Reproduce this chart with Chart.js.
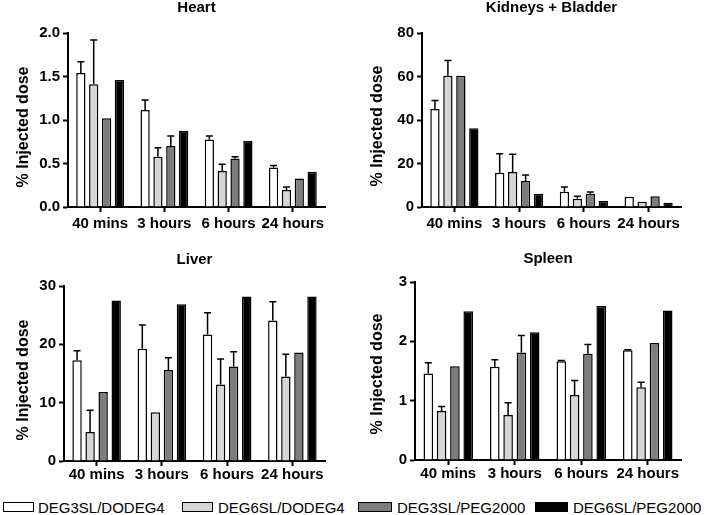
<!DOCTYPE html>
<html><head><meta charset="utf-8">
<script src="https://cdn.jsdelivr.net/npm/chart.js@4.4.1/dist/chart.umd.min.js"></script>
<style>
html,body{margin:0;padding:0;background:#fff;}
#wrap{position:relative;width:706px;height:515px;overflow:hidden;background:#fff;}
canvas{position:absolute;}
.lg-box{position:absolute;box-sizing:border-box;height:10px;top:501.5px;border:1.5px solid #000;}
.lg-txt{position:absolute;font-family:'Liberation Sans',Arial,sans-serif;font-size:15px;line-height:17px;top:499px;color:#000;white-space:nowrap;}
</style></head>
<body><div id="wrap">
<canvas id="c0" width="353" height="240" style="left:0;top:0"></canvas>
<canvas id="c1" width="353" height="240" style="left:353px;top:0"></canvas>
<canvas id="c2" width="353" height="245" style="left:0;top:240px"></canvas>
<canvas id="c3" width="353" height="245" style="left:353px;top:240px"></canvas>
<div id="legend"></div>
</div>
<script>
// ---------- DATA ----------
const categories = ['40 mins', '3 hours', '6 hours', '24 hours'];
const seriesNames = ['DEG3SL/DODEG4', 'DEG6SL/DODEG4', 'DEG3SL/PEG2000', 'DEG6SL/PEG2000'];
const seriesColors = ['#ffffff', '#d6d6d6', '#7d7d7d', '#000000'];
const yAxisTitle = '% Injected dose';

const heartTicks = ['0.0', '0.5', '1.0', '1.5', '2.0'];
const kidneyTicks = ['0', '20', '40', '60', '80'];
const liverTicks = ['0', '10', '20', '30'];
const spleenTicks = ['0', '1', '2', '3'];

// Heart
const heart_DEG3SL_DODEG4 = [1.54, 1.115, 0.777, 0.454];
const heart_DEG6SL_DODEG4 = [1.41, 0.577, 0.415, 0.196];
const heart_DEG3SL_PEG2000 = [1.02, 0.70, 0.558, 0.327];
const heart_DEG6SL_PEG2000 = [1.46, 0.877, 0.76, 0.404];
const heartErr_DEG3SL_DODEG4 = [0.13, 0.115, 0.038, 0.023];
const heartErr_DEG6SL_DODEG4 = [0.51, 0.103, 0.075, 0.034];
const heartErr_DEG3SL_PEG2000 = [0, 0.115, 0.019, 0];
const heartErr_DEG6SL_PEG2000 = [0, 0, 0, 0];

// Kidneys + Bladder
const kidney_DEG3SL_DODEG4 = [45.1, 15.8, 7.0, 4.75];
const kidney_DEG6SL_DODEG4 = [60.3, 16.1, 3.8, 2.45];
const kidney_DEG3SL_PEG2000 = [60.3, 12.0, 6.1, 4.9];
const kidney_DEG6SL_PEG2000 = [36.2, 6.1, 2.8, 2.0];
const kidneyErr_DEG3SL_DODEG4 = [3.9, 8.7, 2.2, 0];
const kidneyErr_DEG6SL_DODEG4 = [7.1, 8.1, 1.1, 0];
const kidneyErr_DEG3SL_PEG2000 = [0, 2.7, 0.8, 0];
const kidneyErr_DEG6SL_PEG2000 = [0, 0, 0, 0];

// Liver
const liver_DEG3SL_DODEG4 = [17.26, 19.26, 21.67, 24.1];
const liver_DEG6SL_DODEG4 = [4.97, 8.34, 13.1, 14.5];
const liver_DEG3SL_PEG2000 = [11.83, 15.6, 16.2, 18.6];
const liver_DEG6SL_PEG2000 = [27.5, 26.86, 28.2, 28.2];
const liverErr_DEG3SL_DODEG4 = [1.64, 4.04, 3.73, 3.2];
const liverErr_DEG6SL_DODEG4 = [3.73, 0, 4.4, 3.8];
const liverErr_DEG3SL_PEG2000 = [0, 2.1, 2.55, 0];
const liverErr_DEG6SL_PEG2000 = [0, 0, 0, 0];

// Spleen
const spleen_DEG3SL_DODEG4 = [1.458, 1.57, 1.666, 1.85];
const spleen_DEG6SL_DODEG4 = [0.824, 0.757, 1.094, 1.228];
const spleen_DEG3SL_PEG2000 = [1.58, 1.81, 1.79, 1.974];
const spleen_DEG6SL_PEG2000 = [2.507, 2.153, 2.597, 2.52];
const spleenErr_DEG3SL_DODEG4 = [0.18, 0.12, 0.01, 0.01];
const spleenErr_DEG6SL_DODEG4 = [0.076, 0.208, 0.246, 0.084];
const spleenErr_DEG3SL_PEG2000 = [0, 0.29, 0.156, 0];
const spleenErr_DEG6SL_PEG2000 = [0, 0, 0, 0];

// ---------- LAYOUT / STYLE ----------
const FONT = "'Liberation Sans', Arial, Helvetica, sans-serif";
Chart.defaults.font.family = FONT;
Chart.defaults.color = '#000';

const panels = [
  { id: 'c0', title: 'Heart', ticks: heartTicks,
    values: [heart_DEG3SL_DODEG4, heart_DEG6SL_DODEG4, heart_DEG3SL_PEG2000, heart_DEG6SL_PEG2000],
    errors: [heartErr_DEG3SL_DODEG4, heartErr_DEG6SL_DODEG4, heartErr_DEG3SL_PEG2000, heartErr_DEG6SL_PEG2000],
    w: 353, h: 240, area: { l: 68, r: 325, t: 33, b: 207 }, titleY: 8, yTitle: { x: 24, y: 127 }, xPad: 3 },
  { id: 'c1', title: 'Kidneys + Bladder', ticks: kidneyTicks,
    values: [kidney_DEG3SL_DODEG4, kidney_DEG6SL_DODEG4, kidney_DEG3SL_PEG2000, kidney_DEG6SL_PEG2000],
    errors: [kidneyErr_DEG3SL_DODEG4, kidneyErr_DEG6SL_DODEG4, kidneyErr_DEG3SL_PEG2000, kidneyErr_DEG6SL_PEG2000],
    w: 353, h: 240, area: { l: 69, r: 328, t: 33, b: 207 }, titleY: 8, yTitle: { x: 24.5, y: 126 }, xPad: 3 },
  { id: 'c2', title: 'Liver', ticks: liverTicks,
    values: [liver_DEG3SL_DODEG4, liver_DEG6SL_DODEG4, liver_DEG3SL_PEG2000, liver_DEG6SL_PEG2000],
    errors: [liverErr_DEG3SL_DODEG4, liverErr_DEG6SL_DODEG4, liverErr_DEG3SL_PEG2000, liverErr_DEG6SL_PEG2000],
    w: 353, h: 245, area: { l: 64, r: 325, t: 46, b: 221 }, titleY: 19.5, yTitle: { x: 24, y: 140 }, xPad: 0 },
  { id: 'c3', title: 'Spleen', ticks: spleenTicks,
    values: [spleen_DEG3SL_DODEG4, spleen_DEG6SL_DODEG4, spleen_DEG3SL_PEG2000, spleen_DEG6SL_PEG2000],
    errors: [spleenErr_DEG3SL_DODEG4, spleenErr_DEG6SL_DODEG4, spleenErr_DEG3SL_PEG2000, spleenErr_DEG6SL_PEG2000],
    w: 353, h: 245, area: { l: 62, r: 328, t: 42, b: 220 }, titleY: 19.3, yTitle: { x: 24.5, y: 134 }, xPad: 0 }
];

const errorBarPlugin = {
  id: 'errorBars',
  afterDatasetsDraw(chart) {
    const ctx = chart.ctx;
    const ys = chart.scales.y;
    chart.data.datasets.forEach((ds, i) => {
      const meta = chart.getDatasetMeta(i);
      meta.data.forEach((el, j) => {
        const e = ds.errors ? ds.errors[j] : 0;
        if (!e) return;
        const top = ys.getPixelForValue(ds.data[j] + e);
        ctx.save();
        ctx.strokeStyle = '#000';
        ctx.lineWidth = 1.5;
        ctx.beginPath();
        ctx.moveTo(el.x, el.y);
        ctx.lineTo(el.x, top);
        ctx.moveTo(el.x - 3.5, top);
        ctx.lineTo(el.x + 3.5, top);
        ctx.stroke();
        ctx.restore();
      });
    });
  }
};

const yTitlePlugin = {
  id: 'yTitle',
  afterDraw(chart, args, opts) {
    const ctx = chart.ctx;
    ctx.save();
    ctx.translate(opts.x, opts.y);
    ctx.rotate(-Math.PI / 2);
    ctx.font = 'bold 16px ' + FONT;
    ctx.textAlign = 'center';
    ctx.textBaseline = 'middle';
    ctx.fillStyle = '#000';
    ctx.fillText(opts.text, 0, 0);
    ctx.restore();
  }
};

panels.forEach(p => {
  const yMin = parseFloat(p.ticks[0]);
  const yMax = parseFloat(p.ticks[p.ticks.length - 1]);
  const yStep = parseFloat(p.ticks[1]) - yMin;
  const datasets = seriesNames.map((name, k) => ({
    label: name,
    data: p.values[k],
    errors: p.errors[k],
    backgroundColor: seriesColors[k],
    borderColor: '#000',
    borderWidth: 1.5,
    barPercentage: 0.72,
    categoryPercentage: 0.8
  }));
  const axisGrid = { display: true, offset: false, drawOnChartArea: false, drawTicks: true,
                     tickLength: 5, tickWidth: 2, tickColor: '#000', color: '#000' };
  new Chart(document.getElementById(p.id), {
    type: 'bar',
    data: { labels: categories, datasets },
    plugins: [errorBarPlugin, yTitlePlugin],
    options: {
      responsive: false,
      animation: false,
      events: [],
      layout: { padding: { left: 0, right: p.w - p.area.r, top: 0, bottom: 0 } },
      plugins: {
        legend: { display: false },
        tooltip: { enabled: false },
        title: {
          display: true, text: p.title, fullSize: false, color: '#000',
          font: { size: 15, weight: 'bold', lineHeight: 1 },
          padding: { top: p.titleY - 7.5, bottom: p.area.t - (p.titleY + 7.5) }
        },
        yTitle: { text: yAxisTitle, x: p.yTitle.x, y: p.yTitle.y }
      },
      scales: {
        x: {
          offset: true,
          grid: axisGrid,
          border: { display: true, color: '#000', width: 2 },
          ticks: { font: { size: 15, weight: 'bold' }, color: '#000', padding: p.xPad, maxRotation: 0, autoSkip: false },
          afterFit: s => { s.height = p.h - p.area.b; }
        },
        y: {
          min: yMin, max: yMax,
          grid: axisGrid,
          border: { display: true, color: '#000', width: 2 },
          ticks: { stepSize: yStep, font: { size: 15, weight: 'bold' }, color: '#000', padding: 3,
                   callback: (v, i) => p.ticks[i] },
          afterFit: s => { s.width = p.area.l; }
        }
      }
    }
  });
});

// ---------- LEGEND (HTML) ----------
const legendPos = [
  { box: 3, bw: 31, txt: 38 },
  { box: 182, bw: 31, txt: 218 },
  { box: 358, bw: 34, txt: 397 },
  { box: 535, bw: 33, txt: 573 }
];
const lg = document.getElementById('legend');
seriesNames.forEach((name, k) => {
  const b = document.createElement('div');
  b.className = 'lg-box';
  b.style.left = legendPos[k].box + 'px';
  b.style.width = legendPos[k].bw + 'px';
  b.style.background = seriesColors[k];
  lg.appendChild(b);
  const t = document.createElement('div');
  t.className = 'lg-txt';
  t.style.left = legendPos[k].txt + 'px';
  t.textContent = name;
  lg.appendChild(t);
});
</script>
</body></html>
